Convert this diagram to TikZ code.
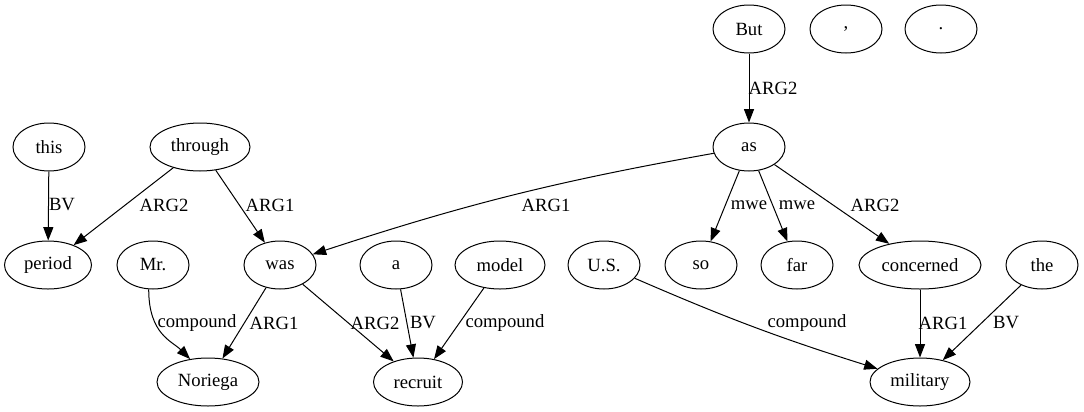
\documentclass[tikz,border=0pt]{standalone}
\usepackage{fontspec}
\setmainfont{Liberation Serif}
\usetikzlibrary{shapes.geometric,arrows.meta}
\begin{document}
\begin{tikzpicture}[x=0.75pt,y=-0.75pt,
  tok/.style={draw,ellipse,line width=0.75pt,minimum width=54pt,minimum height=36pt,inner sep=1pt,font=\fontsize{14}{16}\selectfont},
  wd/.style={minimum width=#1*0.75pt},
  edge/.style={line width=0.75pt,-{Triangle[length=10pt,width=7.5pt]}},
  lab/.style={inner sep=0pt,font=\fontsize{14}{16}\selectfont}]
\useasboundingbox (0,0) rectangle (1084,411);
% top rank
\node[tok] (but) at (749,29) {But};
\node[tok] (comma) at (846,29) {,};
\node[tok] (dot) at (941,29) {.};
% second rank
\node[tok] (this) at (49,147) {this};
\node[tok,wd=100] (through) at (200,147) {through};
\node[tok] (as) at (749,147) {as};
% third rank
\node[tok,wd=87] (period) at (48,265) {period};
\node[tok] (mr) at (153,265) {Mr.};
\node[tok] (was) at (280,265) {was};
\node[tok] (a) at (396,265) {a};
\node[tok,wd=90] (model) at (500,265) {model};
\node[tok] (us) at (604,265) {U.S.};
\node[tok] (so) at (701,265) {so};
\node[tok] (far) at (797,265) {far};
\node[tok,wd=122] (concerned) at (920,265) {concerned};
\node[tok] (the) at (1042,265) {the};
% bottom rank
\node[tok,wd=102] (noriega) at (208,382) {Noriega};
\node[tok,wd=89] (recruit) at (418,382) {recruit};
\node[tok,wd=100] (military) at (920,382) {military};
% edges
\draw[edge] (but) -- (as);
\draw[edge] (this) -- (period);
\draw[edge] (through) -- (period);
\draw[edge] (through) -- (was);
\draw[edge] (as) to[bend right=4] (was);
\draw[edge] (as) -- (so);
\draw[edge] (as) -- (far);
\draw[edge] (as) -- (concerned);
\draw[edge] (mr.-100) .. controls +(0,45) and +(-18,-18) .. (noriega.128);
\draw[edge] (was) -- (noriega);
\draw[edge] (was) -- (recruit);
\draw[edge] (a) -- (recruit);
\draw[edge] (model) -- (recruit);
\draw[edge] (us) to[bend right=3] (military);
\draw[edge] (concerned) -- (military);
\draw[edge] (the) -- (military);
% labels
\node[lab] (l1) at (773,88) {ARG2};
\node[lab] (l2) at (62,205) {BV};
\node[lab] (l3) at (164,205) {ARG2};
\node[lab] (l4) at (270,205) {ARG1};
\node[lab] (l5) at (546,205) {ARG1};
\node[lab] (l6) at (749,205) {mwe};
\node[lab] (l7) at (797,205) {mwe};
\node[lab] (l8) at (875,205) {ARG2};
\node[lab] (l9) at (197,323) {compound};
\node[lab] (l10) at (274,323) {ARG1};
\node[lab] (l11) at (375,323) {ARG2};
\node[lab] (l12) at (423,323) {BV};
\node[lab] (l13) at (505,323) {compound};
\node[lab] (l14) at (807,323) {compound};
\node[lab] (l15) at (943,323) {ARG1};
\node[lab] (l16) at (1006,323) {BV};
\end{tikzpicture}
\end{document}
